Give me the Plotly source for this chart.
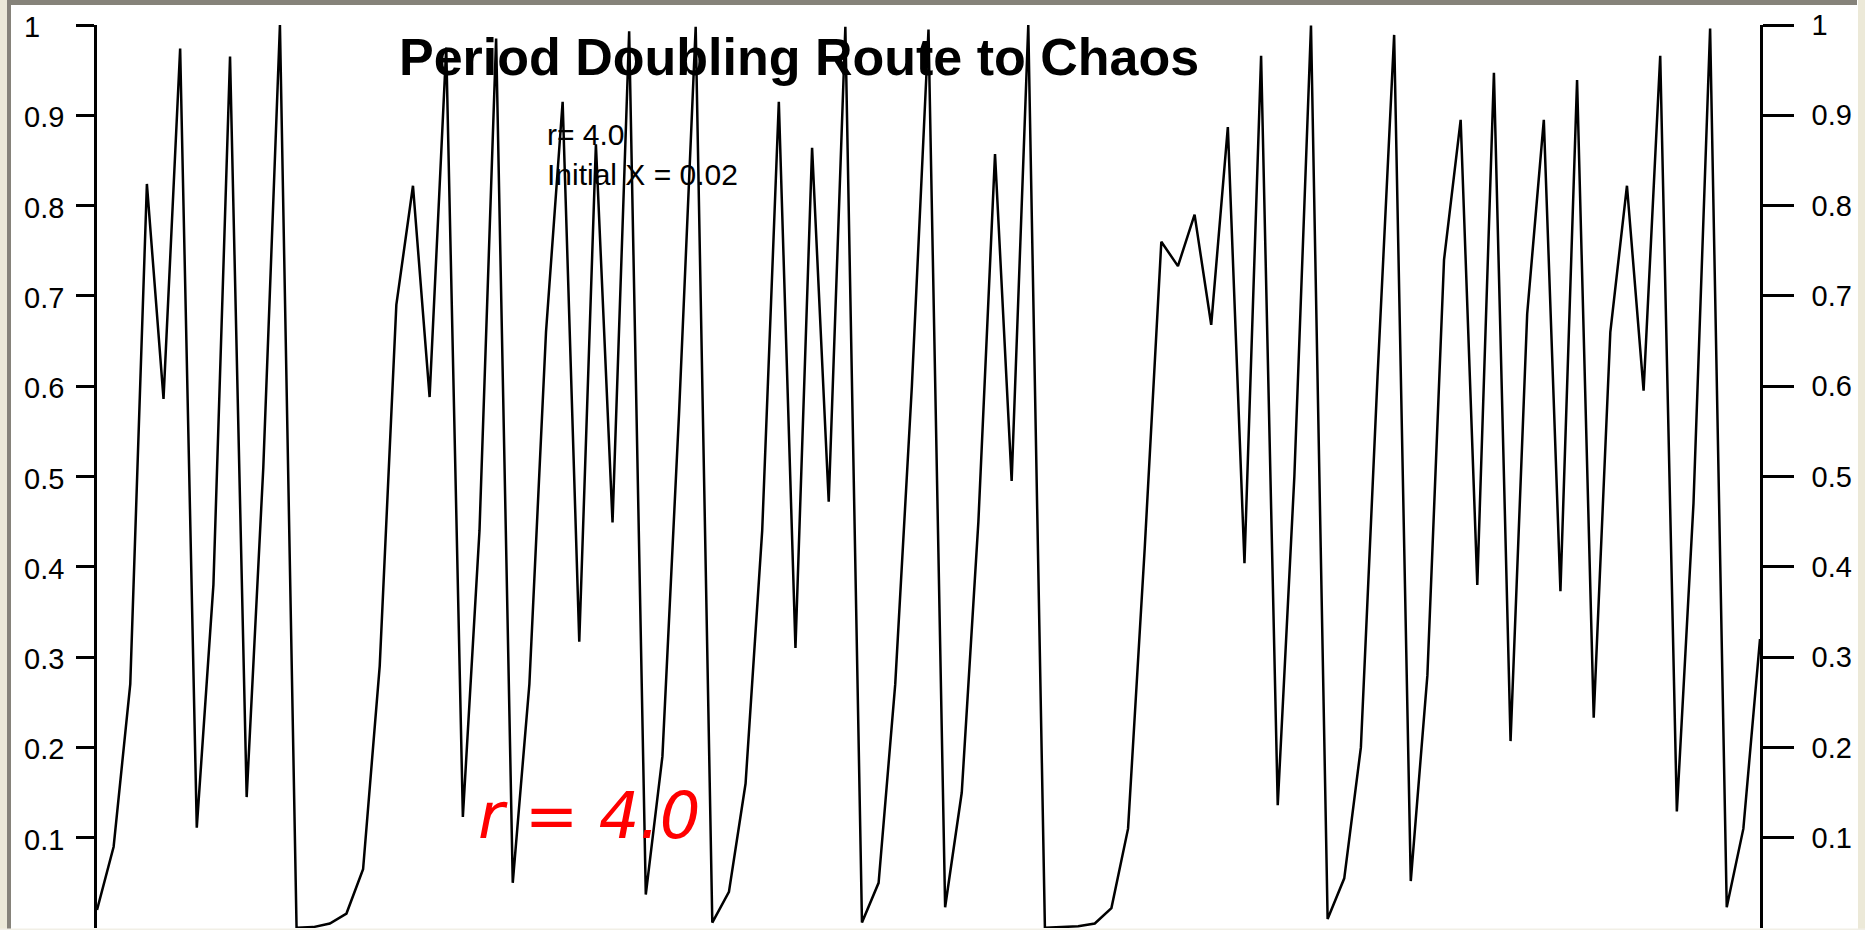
import plotly.graph_objects as go

# ---- data (logistic map iterates, r = 4.0, x0 = 0.02) ----
iterations = list(range(101))
x_values = [
    0.02, 0.09, 0.27, 0.824, 0.586, 0.974, 0.111, 0.38, 0.965, 0.145,
    0.51, 0.9999, 0.0003, 0.001, 0.005, 0.016, 0.065, 0.29, 0.69, 0.822,
    0.588, 0.975, 0.123, 0.44, 0.985, 0.05, 0.27, 0.66, 0.915, 0.317,
    0.868, 0.449, 0.993, 0.037, 0.19, 0.57, 0.998, 0.006, 0.04, 0.16,
    0.44, 0.915, 0.31, 0.864, 0.472, 0.998, 0.006, 0.05, 0.27, 0.6,
    0.995, 0.023, 0.15, 0.45, 0.857, 0.495, 0.9999, 0.0002, 0.001, 0.002,
    0.005, 0.022, 0.11, 0.42, 0.76, 0.733, 0.79, 0.668, 0.887, 0.404,
    0.966, 0.136, 0.5, 0.9995, 0.01, 0.055, 0.2, 0.61, 0.989, 0.052,
    0.28, 0.74, 0.895, 0.38, 0.947, 0.207, 0.68, 0.895, 0.373, 0.939,
    0.233, 0.66, 0.822, 0.595, 0.966, 0.129, 0.47, 0.996, 0.023, 0.11,
    0.32,
]
y_ticks = [0.1, 0.2, 0.3, 0.4, 0.5, 0.6, 0.7, 0.8, 0.9, 1.0]
y_tick_labels = ["0.1", "0.2", "0.3", "0.4", "0.5", "0.6", "0.7", "0.8", "0.9", "1"]

title_text = "Period Doubling Route to Chaos"
info_lines = ["r= 4.0", "Initial X = 0.02"]
big_label = "r = 4.0"

# ---- geometry (pixels) ----
W, H = 1865, 930
L, R, T, B = 97, 1760, 25, 928


def px(xp):
    return (xp - L) / (R - L)


def py(yp):
    return (B - yp) / (B - T)


fig = go.Figure()
fig.add_trace(go.Scatter(x=iterations, y=x_values, mode="lines",
                         line=dict(color="black", width=2.5),
                         showlegend=False, hoverinfo="skip"))
fig.add_trace(go.Scatter(x=iterations, y=x_values, mode="lines",
                         line=dict(color="rgba(0,0,0,0)", width=0),
                         yaxis="y2", showlegend=False, hoverinfo="skip"))

tick_font = dict(family="Liberation Sans, Arial, sans-serif", size=29, color="black")

annotations = []
for v, t in zip(y_ticks, y_tick_labels):
    annotations.append(dict(text=t, xref="paper", x=px(22), xanchor="left",
                            yref="y", y=v, yanchor="middle", yshift=-2,
                            showarrow=False, font=tick_font))

annotations.append(dict(text="<b>" + title_text + "</b>", xref="paper", x=px(798.5),
                        xanchor="center", yref="paper", y=py(57), yanchor="middle",
                        showarrow=False,
                        font=dict(family="Liberation Sans, Arial, sans-serif", size=52,
                                  color="black")))
annotations.append(dict(text=info_lines[0], xref="paper", x=px(545), xanchor="left",
                        yref="paper", y=py(134), yanchor="middle", showarrow=False,
                        font=dict(family="Liberation Sans, Arial, sans-serif", size=30,
                                  color="black")))
annotations.append(dict(text=info_lines[1], xref="paper", x=px(545), xanchor="left",
                        yref="paper", y=py(175), yanchor="middle", showarrow=False,
                        font=dict(family="Liberation Sans, Arial, sans-serif", size=30,
                                  color="black")))
annotations.append(dict(text="<i>" + big_label + "</i>", xref="paper", x=px(476), xanchor="left",
                        yref="paper", y=py(816), yanchor="middle", showarrow=False,
                        font=dict(family="DejaVu Sans", size=64, color="#ff0000")))

beige = "#ECE9D8"
gray = "#86837A"
shapes = [
    dict(type="rect", xref="paper", yref="paper", x0=px(0), x1=px(7), y0=py(930), y1=py(0),
         fillcolor=beige, line=dict(width=0), layer="above"),
    dict(type="rect", xref="paper", yref="paper", x0=px(7), x1=px(11), y0=py(930), y1=py(0),
         fillcolor=gray, line=dict(width=0), layer="above"),
    dict(type="rect", xref="paper", yref="paper", x0=px(7), x1=px(1857), y0=py(5), y1=py(0),
         fillcolor=gray, line=dict(width=0), layer="above"),
    dict(type="rect", xref="paper", yref="paper", x0=px(1858), x1=px(1865), y0=py(930), y1=py(0),
         fillcolor=beige, line=dict(width=0), layer="above"),
    dict(type="rect", xref="paper", yref="paper", x0=px(0), x1=px(1865), y0=py(930), y1=py(928.5),
         fillcolor="#F1EFE6", line=dict(width=0), layer="above"),
]

axis_common = dict(range=[0, 1], showline=True, linecolor="black", linewidth=2.5,
                   ticks="outside", tickwidth=2.5, tickcolor="black",
                   tickvals=y_ticks, showgrid=False, zeroline=False, fixedrange=True)

fig.update_layout(
    width=W, height=H,
    margin=dict(l=L, r=W - R, t=T, b=H - B, pad=0),
    paper_bgcolor="white", plot_bgcolor="white",
    showlegend=False,
    xaxis=dict(range=[0, 100], visible=False, fixedrange=True),
    yaxis=dict(**axis_common, ticklen=18, showticklabels=False),
    yaxis2=dict(**axis_common, overlaying="y", side="right", ticklen=31,
                ticktext=y_tick_labels, tickfont=tick_font, ticklabelstandoff=12),
    annotations=annotations,
    shapes=shapes,
)

fig.write_html(
    "out.html",
    config={"displayModeBar": False},
    post_script="document.body.style.margin='0';document.body.style.overflow='hidden';",
)
